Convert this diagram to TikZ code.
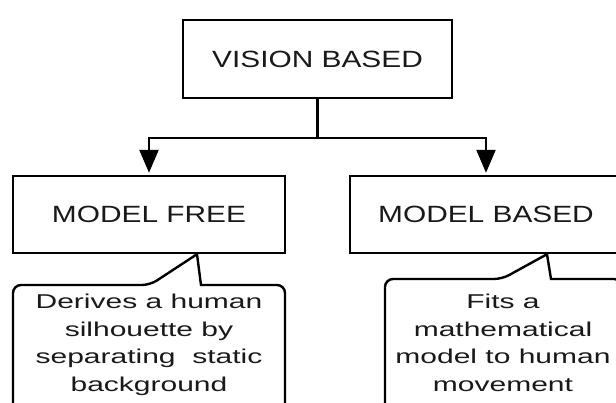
\documentclass[tikz,border=0pt]{standalone}
\usepackage{fontspec}
\usetikzlibrary{arrows.meta}

\newfontfamily\boxfont[FakeStretch=1.27]{Liberation Sans}
\newfontfamily\notefont[FakeStretch=1.5]{Liberation Sans}

\tikzset{
	block/.style={draw, line width=2.4pt, minimum width=272pt, minimum height=77pt,
		font=\boxfont\fontsize{23.5}{28}\selectfont, text=black!90},
	note/.style={align=center, inner sep=0pt, anchor=north,
		font=\notefont\fontsize{20}{27.6}\selectfont, text=black!90},
	outline/.style={line width=2.4pt},
	down/.style={line width=2.4pt, -{Triangle[length=23pt,width=19pt]}, shorten >=2pt},
}

\begin{document}
\begin{tikzpicture}[x=1pt,y=-1pt]
	\clip (0,0) rectangle (616,403);
	
	% (tree)
	\node[block, minimum width=269pt, minimum height=78pt] (vision) at (317.5,59) {VISION BASED};
	\node[block] (free) at (149,214.5) {MODEL FREE};
	\node[block] (based) at (486,214.5) {MODEL BASED};
	\coordinate (split) at (317.5,138);
	\draw[line width=2.4pt] (vision) -- (split);
	\draw[down] (split) -| (free);
	\draw[down] (split) -| (based);
	
	% (notes)
	\coordinate (freetip) at ([xshift=48pt]free.south);
	\coordinate (basedtip) at ([xshift=61pt]based.south);
	\draw[outline] (13,420) [rounded corners=8pt] -- (13,285) -- (150,285) [sharp corners] -- (freetip) -- (201,285) [rounded corners=8pt] -- (285,285) -- (285,420);
	\draw[outline] (385,420) [rounded corners=8pt] -- (385,279) -- (502,279) [sharp corners] -- (basedtip) -- (551,279) [rounded corners=8pt] -- (622,279) -- (622,420);
	\node[note] (freenote) at (149,294) {Derives a human\\silhouette by\\separating\ \ static\\background};
	\node[note] (basednote) at (503,294) {Fits a\\mathematical\\model to human\\movement};

\end{tikzpicture}
\end{document}
